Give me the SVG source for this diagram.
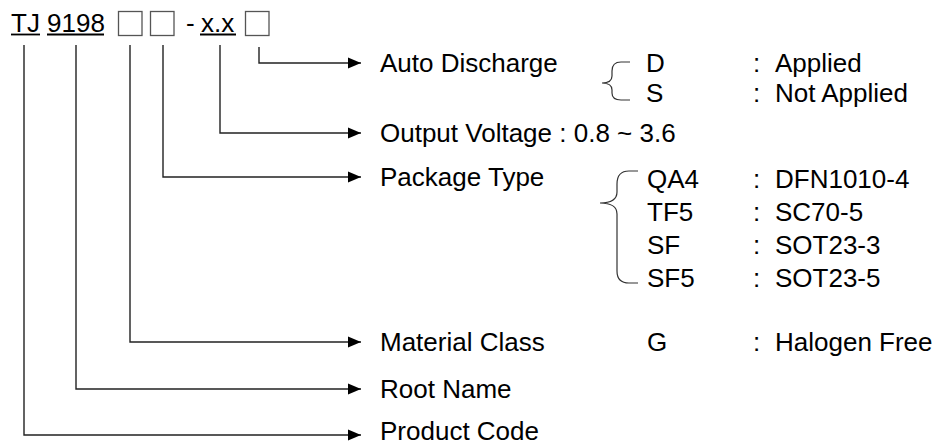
<svg xmlns="http://www.w3.org/2000/svg" width="937" height="446" viewBox="0 0 937 446">
<defs>
<style>
text{font-family:"Liberation Sans",Arial,sans-serif;font-size:26px;fill:#000}
.c{fill:none;stroke:#222;stroke-width:1.4}
.u{stroke:#000;stroke-width:1.8}
.b{fill:#fff;stroke:#555;stroke-width:1.3}
.br{fill:none;stroke:#333;stroke-width:1.2}
</style>
<marker id="ah" markerWidth="14" markerHeight="12" refX="13" refY="6" orient="auto" markerUnits="userSpaceOnUse">
<path d="M0,0.5 L13,6 L0,11.5 Z" fill="#000"/>
</marker>
</defs>
<g id="partnumber">
<text x="11" y="32">TJ</text>
<line class="u" x1="11" y1="34.5" x2="40" y2="34.5"/>
<text x="47" y="32">9198</text>
<line class="u" x1="47" y1="34.5" x2="104" y2="34.5"/>
<rect class="b" x="118.5" y="11.5" width="23.5" height="24"/>
<rect class="b" x="150.5" y="11.5" width="23.5" height="24"/>
<text x="186" y="32">-</text>
<text x="201" y="32">x.x</text>
<line class="u" x1="200" y1="34.5" x2="236" y2="34.5"/>
<rect class="b" x="245.5" y="11.5" width="23.5" height="24"/>
</g>
<g id="connectors">
<path class="c" d="M259,47 V63 H361" marker-end="url(#ah)"/>
<path class="c" d="M220,45 V133 H361" marker-end="url(#ah)"/>
<path class="c" d="M163,45 V177 H361" marker-end="url(#ah)"/>
<path class="c" d="M130,45 V342 H361" marker-end="url(#ah)"/>
<path class="c" d="M76,45 V389 H361" marker-end="url(#ah)"/>
<path class="c" d="M24,45 V435 H361" marker-end="url(#ah)"/>
</g>
<g id="auto-discharge">
<text x="380" y="72">Auto Discharge</text>
<path class="br" d="M630,62 L621,62 Q612,62 612,71 L612,76 Q612,83 602,83 Q612,83 612,90 L612,93 Q612,100 621,100 L630,100"/>
<text x="646" y="72">D</text>
<text x="753" y="72">: <tspan x="775">Applied</tspan></text>
<text x="646" y="102">S</text>
<text x="753" y="102">: <tspan x="775">Not Applied</tspan></text>
</g>
<g id="output-voltage">
<text x="380" y="142">Output Voltage : 0.8 ~ 3.6</text>
</g>
<g id="package-type">
<text x="380" y="186">Package Type</text>
<path class="br" d="M638,171 L629,171 Q617,171 617,184 L617,192 Q617,203 600,203 Q617,203 617,214 L617,271 Q617,283 629,283 L638,283"/>
<text x="647" y="188">QA4</text>
<text x="753" y="188">: <tspan x="775">DFN1010-4</tspan></text>
<text x="647" y="221">TF5</text>
<text x="753" y="221">: <tspan x="775">SC70-5</tspan></text>
<text x="647" y="254">SF</text>
<text x="753" y="254">: <tspan x="775">SOT23-3</tspan></text>
<text x="647" y="287">SF5</text>
<text x="753" y="287">: <tspan x="775">SOT23-5</tspan></text>
</g>
<g id="material-class">
<text x="380" y="351">Material Class</text>
<text x="647" y="351">G</text>
<text x="753" y="351">: <tspan x="775">Halogen Free</tspan></text>
</g>
<g id="root-name">
<text x="380" y="398">Root Name</text>
</g>
<g id="product-code">
<text x="380" y="440">Product Code</text>
</g>
</svg>
